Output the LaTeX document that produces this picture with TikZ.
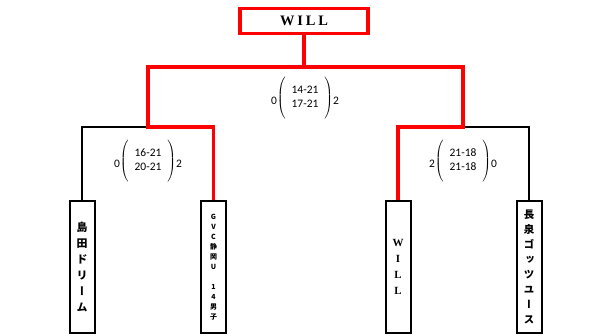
\documentclass[tikz,border=0pt]{standalone}
\usepackage{fontspec}
\setmainfont{Liberation Serif}
\newfontfamily\cjk[RawFeature=+vert]{Noto Sans CJK JP}
\newfontfamily\scorefont{Carlito}
\usetikzlibrary{positioning}

\begin{document}
\begin{tikzpicture}[x=1bp, y=-1bp,
        champ/.style={
            rectangle, draw=red, line width=3.5bp, fill=white,
            minimum width=128bp, minimum height=25bp, inner sep=0pt,
            font=\bfseries\fontsize{14.5}{16}\selectfont\addfontfeature{LetterSpace=20}
        },
        team/.style={
            rectangle, draw=black, line width=2bp, fill=white,
            minimum width=25bp, minimum height=132bp, inner sep=0pt,
            align=center
        },
        kana/.style={
            font=\cjk\bfseries\fontsize{11}{16}\selectfont
        },
        win/.style={
            draw=red, line width=3.5bp
        },
        lose/.style={
            draw=black, line width=2bp
        },
        score/.style={
            font=\scorefont\fontsize{11.5}{14}\selectfont, inner sep=0pt
        }
    ]
        \useasboundingbox (0,0) rectangle (603,335);

        % ----------------------------------------------------
        % TOP: Champion
        % ----------------------------------------------------
        \node[champ] (top) at (304,21) {WILL};

        % ----------------------------------------------------
        % BOTTOM: Teams
        % ----------------------------------------------------
        \node[team, kana] (shimada) at (82,267) {島\\田\\ド\\リ\\ー\\ム};
        \node[team, font=\cjk\bfseries\fontsize{7}{10}\selectfont] (gvc) at (213.5,267) {G\\V\\C\\静\\岡\\U\\[10bp]1\\4\\男\\子};
        \node[team, font=\bfseries\fontsize{11}{16}\selectfont] (will) at (398,267) {W\\I\\L\\L};
        \node[team, font=\cjk\bfseries\fontsize{10.5}{15}\selectfont] (nagaizumi) at (529,267) {長\\泉\\ゴ\\ッ\\ツ\\ユ\\ー\\ス};

        % Bracket junctions
        \coordinate (finL) at (148,67);
        \coordinate (finR) at (463,67);
        \coordinate (semiL) at (148,127);
        \coordinate (semiR) at (463,127);

        % Losing branches
        \draw[lose] (semiL) -| (shimada.north);
        \draw[lose] (semiR) -| (nagaizumi.north);

        % Winning path
        \draw[win] (top.south) |- (finL) -- (semiL) -| (gvc.north);
        \draw[win] (top.south) |- (finR) -- (semiR) -| (will.north);

        % ----------------------------------------------------
        % SCORES
        % ----------------------------------------------------
        \node[score] (scoreF) at (305,98) {\raisebox{-4bp}{0}$\left(\vcenter{\hbox{\rule{0pt}{40bp}}}\begin{tabular}{c}14-21\\17-21\end{tabular}\right)$\raisebox{-4bp}{2}};
        \node[score] (scoreL) at (148,161) {\raisebox{-4bp}{0}$\left(\vcenter{\hbox{\rule{0pt}{40bp}}}\begin{tabular}{c}16-21\\20-21\end{tabular}\right)$\raisebox{-4bp}{2}};
        \node[score] (scoreR) at (463,161) {\raisebox{-4bp}{2}$\left(\vcenter{\hbox{\rule{0pt}{40bp}}}\begin{tabular}{c}21-18\\21-18\end{tabular}\right)$\raisebox{-4bp}{0}};

    \end{tikzpicture}
\end{document}
